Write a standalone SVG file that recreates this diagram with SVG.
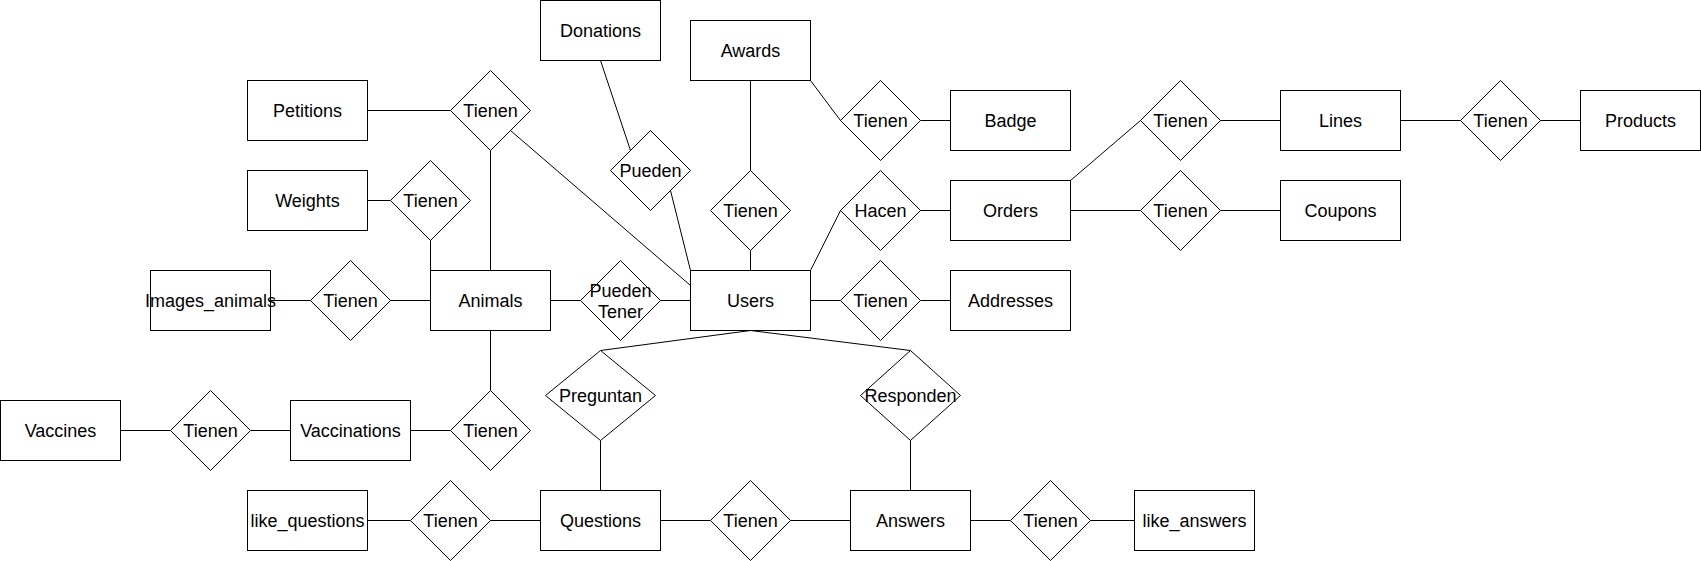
<svg xmlns="http://www.w3.org/2000/svg" width="1701" height="561" viewBox="0 0 1701 561">
<style>
.e{fill:#fff;stroke:#000;stroke-width:1}
.r{fill:#fff;stroke:#000;stroke-width:1}
.c line{stroke:#000;stroke-width:1}
text{font-family:"Liberation Sans",Arial,Helvetica,sans-serif;font-size:18px;fill:#000;text-anchor:middle}
</style>
<rect x="0" y="0" width="1701" height="561" fill="#fff"/>
<g transform="translate(0.5,0.5)">
<g id="connectors" class="c">
<line x1="367" y1="110" x2="450" y2="110"/>
<line x1="490" y1="150" x2="490" y2="270"/>
<line x1="510" y1="130" x2="690" y2="285"/>
<line x1="367" y1="200" x2="390" y2="200"/>
<line x1="430" y1="240" x2="430" y2="270"/>
<line x1="270" y1="300" x2="310" y2="300"/>
<line x1="390" y1="300" x2="430" y2="300"/>
<line x1="550" y1="300" x2="580" y2="300"/>
<line x1="660" y1="300" x2="690" y2="300"/>
<line x1="600" y1="60" x2="630" y2="150"/>
<line x1="670" y1="190" x2="690" y2="270"/>
<line x1="750" y1="80" x2="750" y2="170"/>
<line x1="750" y1="250" x2="750" y2="270"/>
<line x1="810" y1="80" x2="840" y2="120"/>
<line x1="920" y1="120" x2="950" y2="120"/>
<line x1="810" y1="270" x2="840" y2="210"/>
<line x1="920" y1="210" x2="950" y2="210"/>
<line x1="810" y1="300" x2="840" y2="300"/>
<line x1="920" y1="300" x2="950" y2="300"/>
<line x1="1070" y1="180" x2="1140" y2="120"/>
<line x1="1220" y1="120" x2="1280" y2="120"/>
<line x1="1400" y1="120" x2="1460" y2="120"/>
<line x1="1540" y1="120" x2="1580" y2="120"/>
<line x1="1070" y1="210" x2="1140" y2="210"/>
<line x1="1220" y1="210" x2="1280" y2="210"/>
<line x1="490" y1="330" x2="490" y2="390"/>
<line x1="410" y1="430" x2="450" y2="430"/>
<line x1="250" y1="430" x2="290" y2="430"/>
<line x1="120" y1="430" x2="170" y2="430"/>
<line x1="750" y1="330" x2="600" y2="350"/>
<line x1="750" y1="330" x2="910" y2="350"/>
<line x1="600" y1="440" x2="600" y2="490"/>
<line x1="910" y1="440" x2="910" y2="490"/>
<line x1="367" y1="520" x2="410" y2="520"/>
<line x1="490" y1="520" x2="540" y2="520"/>
<line x1="660" y1="520" x2="710" y2="520"/>
<line x1="790" y1="520" x2="850" y2="520"/>
<line x1="970" y1="520" x2="1010" y2="520"/>
<line x1="1090" y1="520" x2="1134" y2="520"/>
</g>
<g id="donations"><rect class="e" x="540" y="0" width="120" height="60"/><text x="600" y="36.5">Donations</text></g>
<g id="awards"><rect class="e" x="690" y="20" width="120" height="60"/><text x="750" y="56.5">Awards</text></g>
<g id="badge"><rect class="e" x="950" y="90" width="120" height="60"/><text x="1010" y="126.5">Badge</text></g>
<g id="petitions"><rect class="e" x="247" y="80" width="120" height="60"/><text x="307" y="116.5">Petitions</text></g>
<g id="weights"><rect class="e" x="247" y="170" width="120" height="60"/><text x="307" y="206.5">Weights</text></g>
<g id="images_animals"><rect class="e" x="150" y="270" width="120" height="60"/><text x="210" y="306.5">Images_animals</text></g>
<g id="animals"><rect class="e" x="430" y="270" width="120" height="60"/><text x="490" y="306.5">Animals</text></g>
<g id="users"><rect class="e" x="690" y="270" width="120" height="60"/><text x="750" y="306.5">Users</text></g>
<g id="addresses"><rect class="e" x="950" y="270" width="120" height="60"/><text x="1010" y="306.5">Addresses</text></g>
<g id="orders"><rect class="e" x="950" y="180" width="120" height="60"/><text x="1010" y="216.5">Orders</text></g>
<g id="lines"><rect class="e" x="1280" y="90" width="120" height="60"/><text x="1340" y="126.5">Lines</text></g>
<g id="products"><rect class="e" x="1580" y="90" width="120" height="60"/><text x="1640" y="126.5">Products</text></g>
<g id="coupons"><rect class="e" x="1280" y="180" width="120" height="60"/><text x="1340" y="216.5">Coupons</text></g>
<g id="vaccines"><rect class="e" x="0" y="400" width="120" height="60"/><text x="60" y="436.5">Vaccines</text></g>
<g id="vaccinations"><rect class="e" x="290" y="400" width="120" height="60"/><text x="350" y="436.5">Vaccinations</text></g>
<g id="like_questions"><rect class="e" x="247" y="490" width="120" height="60"/><text x="307" y="526.5">like_questions</text></g>
<g id="questions"><rect class="e" x="540" y="490" width="120" height="60"/><text x="600" y="526.5">Questions</text></g>
<g id="answers"><rect class="e" x="850" y="490" width="120" height="60"/><text x="910" y="526.5">Answers</text></g>
<g id="like_answers"><rect class="e" x="1134" y="490" width="120" height="60"/><text x="1194" y="526.5">like_answers</text></g>

<g id="r_petitions"><polygon class="r" points="490,70 530,110 490,150 450,110"/><text x="490" y="116.5">Tienen</text></g>
<g id="r_weights"><polygon class="r" points="430,160 470,200 430,240 390,200"/><text x="430" y="206.5">Tienen</text></g>
<g id="r_images"><polygon class="r" points="350,260 390,300 350,340 310,300"/><text x="350" y="306.5">Tienen</text></g>
<g id="r_pueden"><polygon class="r" points="650,130 690,170 650,210 610,170"/><text x="650" y="176.5">Pueden</text></g>
<g id="r_awards_users"><polygon class="r" points="750,170 790,210 750,250 710,210"/><text x="750" y="216.5">Tienen</text></g>
<g id="r_badge"><polygon class="r" points="880,80 920,120 880,160 840,120"/><text x="880" y="126.5">Tienen</text></g>
<g id="r_hacen"><polygon class="r" points="880,170 920,210 880,250 840,210"/><text x="880" y="216.5">Hacen</text></g>
<g id="r_addresses"><polygon class="r" points="880,260 920,300 880,340 840,300"/><text x="880" y="306.5">Tienen</text></g>
<g id="r_pueden_tener"><polygon class="r" points="620,260 660,300 620,340 580,300"/><text x="620" y="296">Pueden</text><text x="620" y="317">Tener</text></g>
<g id="r_lines"><polygon class="r" points="1180,80 1220,120 1180,160 1140,120"/><text x="1180" y="126.5">Tienen</text></g>
<g id="r_coupons"><polygon class="r" points="1180,170 1220,210 1180,250 1140,210"/><text x="1180" y="216.5">Tienen</text></g>
<g id="r_products"><polygon class="r" points="1500,80 1540,120 1500,160 1460,120"/><text x="1500" y="126.5">Tienen</text></g>
<g id="r_vaccinations"><polygon class="r" points="490,390 530,430 490,470 450,430"/><text x="490" y="436.5">Tienen</text></g>
<g id="r_vaccines"><polygon class="r" points="210,390 250,430 210,470 170,430"/><text x="210" y="436.5">Tienen</text></g>
<g id="r_preguntan"><polygon class="r" points="600,350 655,395 600,440 545,395"/><text x="600" y="401.5">Preguntan</text></g>
<g id="r_responden"><polygon class="r" points="910,350 960,395 910,440 860,395"/><text x="910" y="401.5">Responden</text></g>
<g id="r_like_questions"><polygon class="r" points="450,480 490,520 450,560 410,520"/><text x="450" y="526.5">Tienen</text></g>
<g id="r_questions_answers"><polygon class="r" points="750,480 790,520 750,560 710,520"/><text x="750" y="526.5">Tienen</text></g>
<g id="r_like_answers"><polygon class="r" points="1050,480 1090,520 1050,560 1010,520"/><text x="1050" y="526.5">Tienen</text></g>
</g>
</svg>
